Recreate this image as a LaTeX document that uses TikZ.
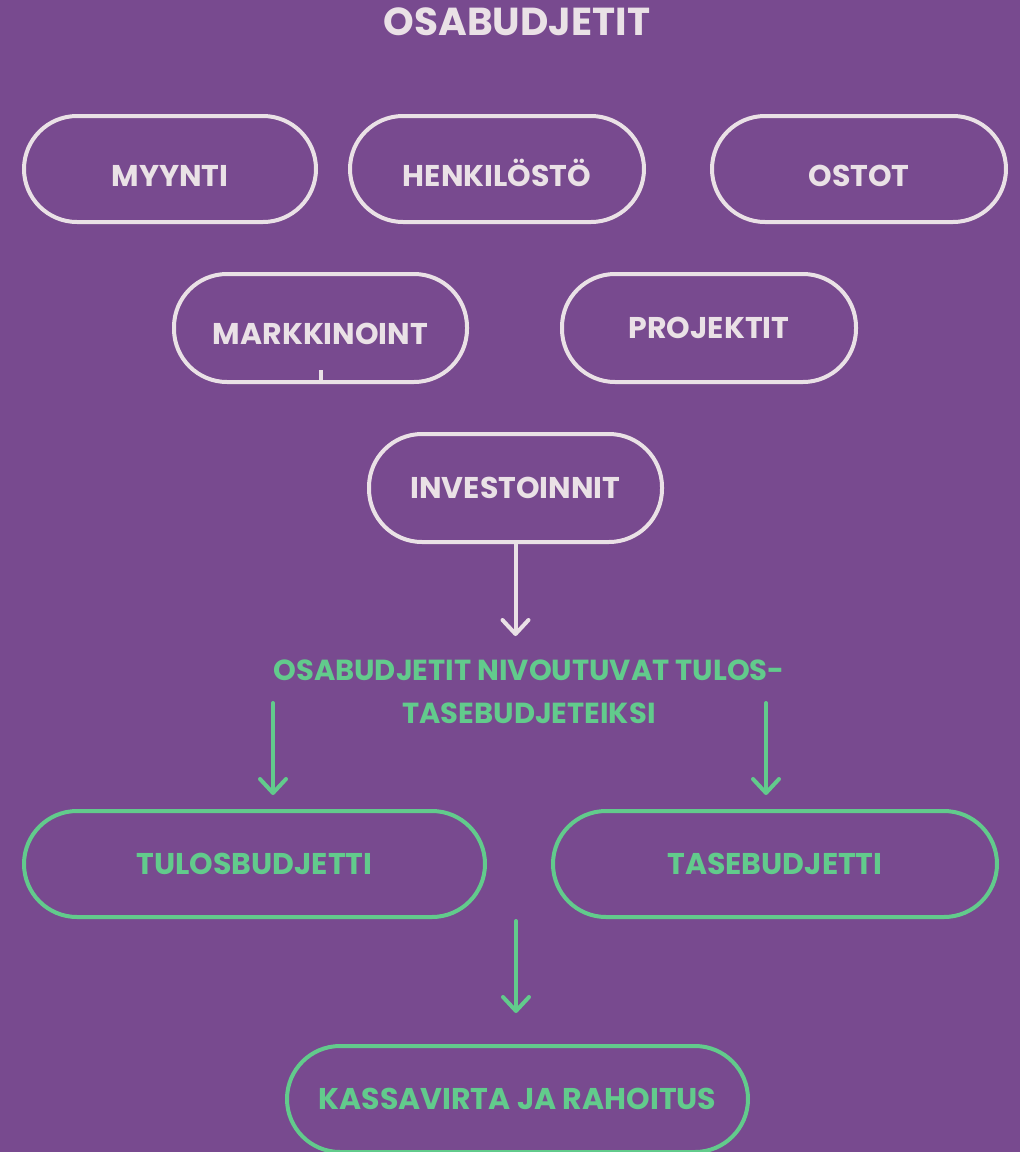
\documentclass[tikz,border=0pt]{standalone}
\usepackage{fontspec}
\setmainfont{Poppins}
\usetikzlibrary{arrows.meta}
\definecolor{bg}{HTML}{784A8F}
\definecolor{lite}{HTML}{EAE1E6}
\definecolor{grn}{HTML}{62CB8C}
\begin{document}
\begin{tikzpicture}[x=1pt,y=-1pt,
  pill/.style={draw, line width=4pt, rounded corners=53pt, minimum height=106pt,
    inner sep=0pt, font=\fontsize{30}{34}\selectfont\bfseries, text height=21pt, text depth=0pt},
  litepill/.style={pill, draw=lite, text=lite},
  grnpill/.style={pill, draw=grn, text=grn},
  wa/.style={draw=lite, line width=4pt, line cap=round, -{Straight Barb[length=14pt,width=26pt,line width=4pt,round]}},
  ga/.style={wa, draw=grn}
]
\fill[bg] (0,0) rectangle (1020,1152);
\useasboundingbox (0,0) rectangle (1020,1152);

\node[text=lite, font=\fontsize{39}{44}\selectfont\bfseries, text height=27pt, text depth=0pt] (title) at (517,22) {OSABUDJETIT};

\node[litepill, minimum width=292pt, text height=35pt] (myy) at (170,169) {MYYNTI};
\node[litepill, minimum width=294pt, text height=35pt] (hen) at (497,169) {HENKILÖSTÖ};
\node[litepill, minimum width=294pt, text height=35pt] (ost) at (859,169) {OSTOT};
\node[litepill, minimum width=293pt, minimum height=108pt, text height=33pt] (mar) at (320.5,328) {MARKKINOINT};
\node[litepill, minimum width=294pt, minimum height=108pt] (pro) at (709,328) {PROJEKTIT};
\node[litepill, minimum width=293pt, minimum height=108pt] (inv) at (515.5,488) {INVESTOINNIT};

\draw[lite, line width=4pt] (mar.south) -- ++(0,-14);

\node[text=grn, align=center, font=\fontsize{29}{43}\selectfont\bfseries] (txt) at (529,692)
  {OSABUDJETIT NIVOUTUVAT TULOS-\\TASEBUDJETEIKSI};

\node[grnpill, minimum width=461pt] (tul) at (254.5,864) {TULOSBUDJETTI};
\node[grnpill, minimum width=444pt] (tas) at (775,864) {TASEBUDJETTI};
\node[grnpill, minimum width=461pt] (kas) at (517.5,1099) {KASSAVIRTA JA RAHOITUS};

\coordinate (a1) at (515.5,636);
\draw[wa] (inv.south) -- (a1);
\coordinate (g1) at (273,703);
\coordinate (g2) at (766,703);
\coordinate (g3) at (516,921);
\draw[ga, shorten >=14pt] (g1) -- (g1 |- tul.north);
\draw[ga, shorten >=14pt] (g2) -- (g2 |- tas.north);
\draw[ga, shorten >=31pt] (g3) -- (g3 |- kas.north);
\end{tikzpicture}
\end{document}
